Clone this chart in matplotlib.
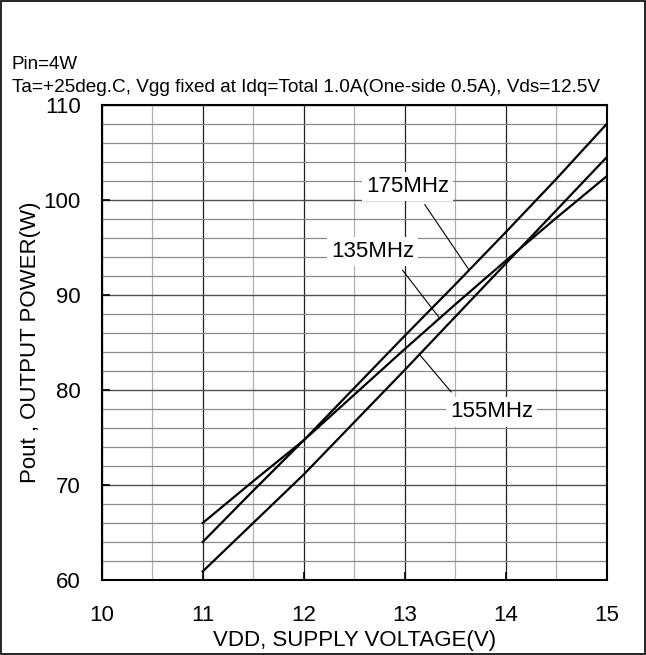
import matplotlib
matplotlib.use("Agg")
import matplotlib.pyplot as plt
from matplotlib.patches import Rectangle
from matplotlib.ticker import MultipleLocator

plt.rcParams['font.family'] = ['Liberation Sans', 'DejaVu Sans']

# supply voltage (V) and output power (W)
vdd = [11.0, 11.5, 12.0, 12.5, 13.0, 13.5, 14.0, 14.5, 15.0]
pout_175 = [64.0, 69.4, 74.7, 80.2, 85.7, 91.1, 96.6, 102.2, 108.0]
pout_135 = [66.0, 70.4, 74.7, 79.5, 84.3, 89.0, 93.6, 98.1, 102.5]
pout_155 = [60.9, 66.0, 71.1, 76.6, 82.1, 87.7, 93.3, 98.9, 104.5]

# label text position and the point its leader line touches
labels = ['175MHz', '135MHz', '155MHz']
label_xy = [(13.03, 101.4), (12.68, 94.55), (13.86, 77.7)]
leader_from = [(13.20, 99.5), (12.98, 92.6), (13.46, 79.8)]
leader_to = [(13.64, 92.6), (13.35, 87.5), (13.15, 83.7)]

fig = plt.figure(figsize=(6.46, 6.55), dpi=100)
ax = fig.add_axes([0.1574, 0.1145, 0.7817, 0.7252])

# frame round the whole picture
fig.patches.append(Rectangle((0.002, 0.002), 0.996, 0.996, transform=fig.transFigure,
                             fill=False, edgecolor='black', linewidth=1.2))

for y in (pout_175, pout_135, pout_155):
    ax.plot(vdd, y, color='black', linewidth=1.6, zorder=3)

for txt, xy, p0, p1 in zip(labels, label_xy, leader_from, leader_to):
    ax.plot([p0[0], p1[0]], [p0[1], p1[1]], color='black', linewidth=0.8, zorder=3)
    ax.text(xy[0], xy[1], txt, fontsize=16, ha='center', va='center', zorder=4,
            bbox=dict(facecolor='white', edgecolor='none', pad=3))

ax.set_xlim(10, 15)
ax.set_ylim(60, 110)
ax.xaxis.set_major_locator(MultipleLocator(1))
ax.xaxis.set_minor_locator(MultipleLocator(0.5))
ax.yaxis.set_major_locator(MultipleLocator(10))
ax.yaxis.set_minor_locator(MultipleLocator(2))

ax.grid(True, which='major', axis='x', color='#202020', linewidth=0.9)
ax.grid(True, which='minor', axis='x', color='#b0b0b0', linewidth=0.9)
ax.grid(True, which='major', axis='y', color='#505050', linewidth=1.0)
ax.grid(True, which='minor', axis='y', color='#8a8a8a', linewidth=0.9)
ax.set_axisbelow(True)

ax.tick_params(which='major', direction='in', length=6, width=1.2, labelsize=16)
ax.tick_params(which='minor', length=0)
ax.tick_params(axis='x', pad=18)
ax.tick_params(axis='y', pad=15)
for s in ax.spines.values():
    s.set_linewidth(1.5)

ax.set_xlabel('VDD, SUPPLY VOLTAGE(V)', fontsize=16)
ax.xaxis.set_label_coords(0.5, -0.106)
ax.set_ylabel('Pout , OUTPUT POWER(W)', fontsize=16)
ax.yaxis.set_label_coords(-0.12, 0.5)

fig.text(0.018, 0.902, 'Pin=4W', fontsize=13.5, va='center')
fig.text(0.018, 0.867, 'Ta=+25deg.C, Vgg fixed at Idq=Total 1.0A(One-side 0.5A), Vds=12.5V',
         fontsize=13.7, va='center')

fig.savefig('out.png', dpi=100)
